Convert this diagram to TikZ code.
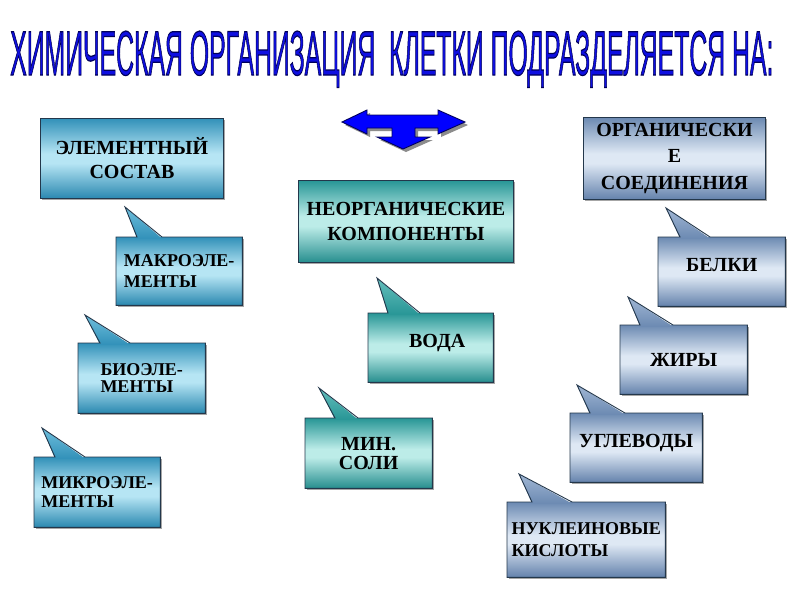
\documentclass[tikz,border=0pt]{standalone}
\usepackage{graphicx}
\usepackage{fontspec}
\setmainfont{Liberation Serif}
\newfontfamily\titlefont[FakeBold=2]{Liberation Sans}
\usetikzlibrary{calc,shadows}
\definecolor{ltop}{RGB}{50,145,185}
\definecolor{lmid}{RGB}{182,229,244}
\definecolor{lbot}{RGB}{42,136,176}
\definecolor{ltip}{RGB}{110,190,220}
\definecolor{ttop}{RGB}{40,150,150}
\definecolor{tmid}{RGB}{188,236,232}
\definecolor{tbot}{RGB}{38,142,142}
\definecolor{ttip}{RGB}{100,190,188}
\definecolor{rtop}{RGB}{108,138,178}
\definecolor{rmid}{RGB}{222,232,244}
\definecolor{rbot}{RGB}{100,130,172}
\definecolor{rtip}{RGB}{160,182,212}
\definecolor{edge}{RGB}{35,55,75}
\definecolor{navy}{RGB}{0,0,90}
\definecolor{tblue}{RGB}{15,15,225}
\definecolor{arrblue}{RGB}{0,0,255}
\pgfdeclareverticalshading{lsh}{100bp}{color(0bp)=(lbot); color(25bp)=(lbot); color(47bp)=(lmid); color(53bp)=(lmid); color(75bp)=(ltop); color(100bp)=(ltop)}
\pgfdeclareverticalshading{tsh}{100bp}{color(0bp)=(tbot); color(25bp)=(tbot); color(47bp)=(tmid); color(53bp)=(tmid); color(75bp)=(ttop); color(100bp)=(ttop)}
\pgfdeclareverticalshading{rsh}{100bp}{color(0bp)=(rbot); color(25bp)=(rbot); color(47bp)=(rmid); color(53bp)=(rmid); color(75bp)=(rtop); color(100bp)=(rtop)}
\tikzset{
  box/.style={inner sep=0pt, anchor=north west, align=center,
    drop shadow={shadow xshift=1.5pt, shadow yshift=-1.5pt, opacity=0.35, fill=black}},
  hfont/.style={font=\bfseries\fontsize{20}{#1}\selectfont},
  sfont/.style={font=\bfseries\fontsize{18}{#1}\selectfont},
  bfont/.style={font=\bfseries\fontsize{20}{#1}\selectfont},
  lbox/.style={box, shade, shading=lsh},
  tbox/.style={box, shade, shading=tsh},
  rbox/.style={box, shade, shading=rsh},
  outl/.style={draw=edge, line width=0.9pt, line join=miter},
  ttlnode/.style={inner sep=0pt, anchor=base west},
}
\newcommand\ttltext{\resizebox{763pt}{44pt}{\titlefont\color{tblue}\special{pdf:literal direct 0 0 0.35 RG}%
  ХИМИЧЕСКАЯ ОРГАНИЗАЦИЯ\ \ КЛЕТКИ ПОДРАЗДЕЛЯЕТСЯ НА:}}
\newcommand\pointer[6]{% node, colour prefix, base x1, tip x, tip y, base x2
  \shade[top color=#2tip, bottom color=#2top] ($(#3,0 |- #1.north)+(0,1.5)$) -- (#4,#5) -- ($(#6,0 |- #1.north)+(0,1.5)$) -- cycle;
  \draw[outl] (#1.north west) -- (#3,0 |- #1.north) -- (#4,#5) -- (#6,0 |- #1.north) -- (#1.north east) -- (#1.south east) -- (#1.south west) -- cycle;
}
\begin{document}
\begin{tikzpicture}[x=1pt,y=-1pt]
\useasboundingbox (0,0) rectangle (800,600);
\fill[white] (0,0) rectangle (800,600);

% title
\node[ttlnode] (ttl) at (10,75) {\ttltext};

% three-way arrow
\fill[black!45] ($(342,122)+(3,3)$) -- ++(25,-12) -- ++(0,5) -- ++(71,0) -- ++(0,-5) -- ++(27,12) -- ++(-27,12) -- ++(0,-6) -- ++(-23,0) -- ++(0,9) -- ++(15,0) -- ++(-27,12) -- ++(-26,-12) -- ++(15,0) -- ++(0,-9) -- ++(-25,0) -- ++(0,6) -- cycle;
\filldraw[fill=arrblue, draw=navy, line width=0.9pt, line join=miter]
  (342,122) -- (367,110) -- (367,115) -- (438,115) -- (438,110) -- (465,122) -- (438,134) -- (438,128) -- (415,128) -- (415,137) -- (430,137) -- (403,149) -- (377,137) -- (392,137) -- (392,128) -- (367,128) -- (367,134) -- cycle;

% headers
\node[lbox, hfont=24, draw=edge, line width=0.9pt, minimum width=183pt, minimum height=80pt] (elem) at (40,118) {ЭЛЕМЕНТНЫЙ\\СОСТАВ};
\node[tbox, hfont=24.5, draw=edge, line width=0.9pt, minimum width=215pt, minimum height=82pt] (neorg) at (298,180) {НЕОРГАНИЧЕСКИЕ\\КОМПОНЕНТЫ};
\node[rbox, hfont=26.5, draw=edge, line width=0.9pt, minimum width=182pt, minimum height=82pt] (org) at (583,117) {ОРГАНИЧЕСКИ\\Е\\СОЕДИНЕНИЯ};

% left callouts
\node[lbox, sfont=21, align=left, minimum width=126pt, minimum height=68pt] (macro) at (116,237) {МАКРОЭЛЕ-\\МЕНТЫ};
\pointer{macro}{l}{137}{125}{207}{162}
\node[lbox, sfont=17.5, align=left, minimum width=127pt, minimum height=70pt] (bio) at (78,343) {БИОЭЛЕ-\\МЕНТЫ};
\pointer{bio}{l}{100}{85}{315}{130}
\node[lbox, sfont=18.5, align=left, minimum width=126pt, minimum height=70pt] (micro) at (34,457) {МИКРОЭЛЕ-\\МЕНТЫ};
\pointer{micro}{l}{55}{42}{428}{85}

% middle callouts
\node[tbox, bfont=21, minimum width=125pt, minimum height=69pt] (voda) at (368,313) {\hspace*{13pt}ВОДА\\[-8pt]\mbox{}};
\pointer{voda}{t}{388}{377}{278}{420}
\node[tbox, bfont=19, minimum width=127pt, minimum height=70pt] (min) at (305,418) {МИН.\\СОЛИ};
\pointer{min}{t}{335}{319}{388}{358}

% right callouts
\node[rbox, bfont=21, minimum width=127pt, minimum height=69pt] (belki) at (658,237) {БЕЛКИ\\[-8pt]\mbox{}};
\pointer{belki}{r}{680}{666}{208}{710}
\node[rbox, bfont=21, minimum width=127pt, minimum height=69pt] (jiry) at (620,325) {ЖИРЫ};
\pointer{jiry}{r}{640}{628}{297}{673}
\node[rbox, bfont=21, minimum width=132pt, minimum height=69pt] (ugl) at (570,413) {УГЛЕВОДЫ\\[-8pt]\mbox{}};
\pointer{ugl}{r}{590}{577}{385}{625}
\node[rbox, sfont=22, align=left, minimum width=158pt, minimum height=75pt] (nukl) at (507,502) {НУКЛЕИНОВЫЕ\\КИСЛОТЫ};
\pointer{nukl}{r}{532}{519}{474}{572}
\end{tikzpicture}
\end{document}
